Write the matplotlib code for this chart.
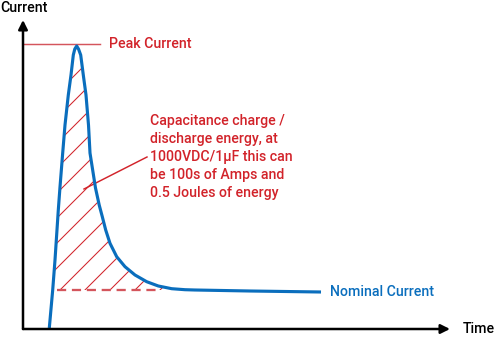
import numpy as np
import matplotlib
matplotlib.use('Agg')
import matplotlib.pyplot as plt

# Curve: time (x) and current (y), origin at the axes corner
time_pts = [26.3, 29.7, 32.0, 35.3, 37.0, 39.7, 42.0, 45.3, 48.0, 50.3, 51.8, 53.7,
            55.5, 57.7, 60.3, 63.0, 65.5, 67.0, 72.5, 76.2, 79.3, 82.7, 87.0,
            93.7, 102.0, 112.0, 123.7, 135.3, 148.7, 162.0, 172.0, 227.0, 298.0]
current_pts = [1, 39, 69, 119, 142, 176, 204, 234, 254, 274, 280, 283,
               280, 274, 254, 234, 204, 176, 141, 124, 112.3, 99, 85.7,
               72.3, 62.3, 54, 47.3, 43, 40.3, 39.3, 39, 38, 37]

peak_level = 285
nominal_level = 39
dash_start, dash_end = 33.7, 133.7
peak_line_end = 77

note_lines = ['Capacitance charge /', 'discharge energy, at',
              '1000VDC/1\u03bcF this can', 'be 100s of Amps and',
              '0.5 Joules of energy']

red = '#d2232a'
red_light = '#d4555c'
blue = '#0a6ebd'

plt.rcParams['font.family'] = ['Roboto', 'DejaVu Sans']
plt.rcParams['hatch.linewidth'] = 0.5

fig = plt.figure(figsize=(500 / 150, 346 / 150), dpi=150)
ax = fig.add_axes([0, 0, 1, 1])
ax.set_xlim(-23, 477)
ax.set_ylim(-17, 329)
ax.axis('off')

t = np.array(time_pts)
c = np.array(current_pts)

# hatched energy area above the nominal level
mask = c >= nominal_level
ax.fill(t[mask], c[mask], facecolor='none', edgecolor=red, linewidth=0,
        hatch='//', zorder=1)
ax.plot([dash_start, dash_end], [nominal_level, nominal_level], color=red_light,
        lw=1.1, dashes=(4, 2.5), zorder=1)

ax.plot(t, c, color=blue, lw=1.5, solid_joinstyle='round', solid_capstyle='butt', zorder=3)

# peak marker
ax.plot([0, peak_line_end], [peak_level, peak_level], color=red_light, lw=0.7, zorder=2)

# axes with arrows
arrow = dict(arrowstyle='-|>', color='black', lw=1.2, mutation_scale=9, shrinkA=0, shrinkB=0)
ax.annotate('', xy=(0, 309), xytext=(0, 0), arrowprops=arrow)
ax.annotate('', xy=(427, 0), xytext=(0, 0), arrowprops=arrow)

fs = 6.8
fw = 'medium'
ax.text(-23, 321, 'Current', fontsize=fs, fontweight=fw, color='black', va='center', ha='left')
ax.text(440, 0, 'Time', fontsize=fs, fontweight=fw, color='black', va='center', ha='left')
ax.text(86, peak_level, 'Peak Current', fontsize=fs, fontweight=fw, color=red,
        va='center', ha='left')
ax.text(307, 37, 'Nominal Current', fontsize=fs, fontweight=fw, color=blue,
        va='center', ha='left')

for i, line in enumerate(note_lines):
    ax.text(127, 208 - 18 * i, line, fontsize=fs, fontweight=fw, color=red,
            va='center', ha='left')
ax.plot([61, 124], [140, 172], color=red, lw=0.7)

fig.savefig('out.png', dpi=150)
